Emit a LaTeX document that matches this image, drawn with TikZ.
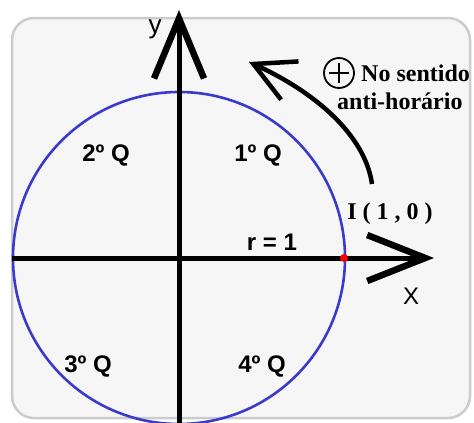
\documentclass[tikz,border=0pt]{standalone}
\usepackage{fontspec}
\setmainfont{Liberation Serif}
\setsansfont{Liberation Sans}
\usetikzlibrary{arrows.meta}
\definecolor{cardgray}{HTML}{F6F6F6}
\definecolor{circblue}{HTML}{3B3BCB}
\tikzset{
  axis/.style={line width=5pt},
  quadlabel/.style={font=\sffamily\bfseries\fontsize{24}{26}\selectfont},
  notelabel/.style={font=\rmfamily\bfseries\fontsize{24}{26}\selectfont},
}
\begin{document}
\begin{tikzpicture}[x=1pt,y=-1pt,every node/.style={inner sep=0pt}]
\useasboundingbox (0,0) rectangle (474,423);
% Background card
\draw[gray!40,line width=2.5pt,fill=cardgray,rounded corners=22pt] (12,18) rectangle (470,418);
% Unit circle
\coordinate (O) at (179,258);
\draw[circblue,line width=2.6pt] (O) circle (166pt);
% Axes
\coordinate (xL) at (12,258);
\coordinate (xR) at (434,258);
\coordinate (yB) at (179,423);
\coordinate (yT) at (179,10);
\draw[axis,-{Straight Barb[length=58pt,width=46pt,line width=6.5pt]}] (xL) -- (xR);
\draw[axis,-{Straight Barb[length=60pt,width=50pt,line width=6.5pt]}] (yB) -- (yT);
\node[font=\sffamily\fontsize{26}{28}\selectfont] (ylab) at (155,29) {y};
\node[font=\sffamily\fontsize{24}{26}\selectfont] (xlab) at (411,296) {X};
% Quadrants
\foreach \q/\qx/\qy in {1/258/155,2/106/155,3/88/366,4/262/366}
  \node[quadlabel] (q\q) at (\qx,\qy) {\q º Q};
% Point I(1,0) and radius
\node[circle,fill=red,minimum size=8pt] (I) at (344,258) {};
\node[quadlabel] (rlab) at (272,242) {r = 1};
\node[notelabel] (Ilab) at (390,214) {I ( 1 , 0 )};
% Positive direction arrow
\coordinate (arrS) at (372,184);
\coordinate (arrE) at (249,62);
\draw[line width=4.5pt,-{Straight Barb[length=40pt,width=42pt,line width=4.5pt]}] (arrS) .. controls (365,135) and (315,92) .. (arrE);
\node[draw,circle,line width=1.8pt,minimum size=30pt] (plus) at (339,73) {};
\draw[line width=1.6pt] ([xshift=-10pt]plus.center) -- ([xshift=10pt]plus.center);
\draw[line width=1.6pt] ([yshift=-10pt]plus.center) -- ([yshift=10pt]plus.center);
\node[notelabel,anchor=west] (no) at (361,73) {No sentido};
\node[notelabel,anchor=west] (anti) at (337,101) {anti-horário};
\end{tikzpicture}
\end{document}
